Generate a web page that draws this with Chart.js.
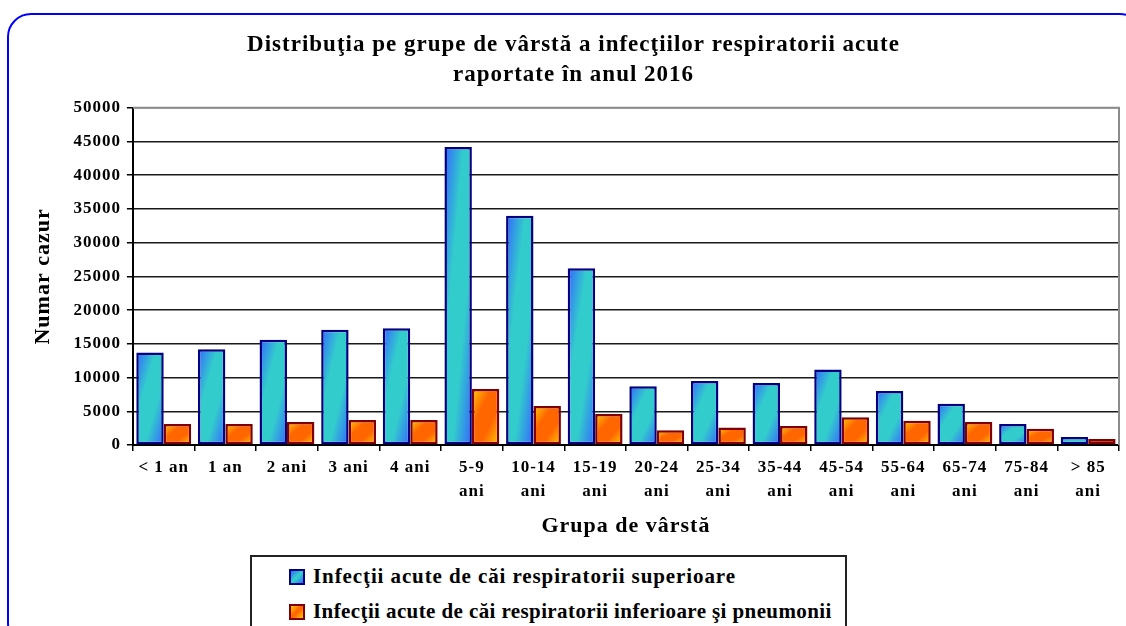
<!DOCTYPE html>
<html>
<head>
<meta charset="utf-8">
<script src="https://cdn.jsdelivr.net/npm/chart.js@4.4.1/dist/chart.umd.min.js"></script>
<style>
  body { margin: 0; background: #fff; }
  #wrap { position: relative; width: 1126px; height: 626px; overflow: hidden; background: #fff; }
  #frame { position: absolute; left: 7px; top: 13px; width: 1133px; height: 630px; border: 2px solid #0000ff; border-radius: 24px; }
  #chart { position: absolute; left: 0; top: 0; }
  #legend { position: absolute; left: 250px; top: 555px; width: 593px; height: 90px; border: 2px solid #222;
    font: bold 21px 'Liberation Serif', 'Times New Roman', serif; color: #000; }
  .item { position: absolute; left: 37px; display: flex; align-items: center; white-space: nowrap; }
  .mark { width: 12px; height: 12px; border: 2px solid; margin-right: 8px; }
</style>
</head>
<body>
<div id="wrap">
  <div id="frame"></div>
  <canvas id="chart" width="1126" height="544"></canvas>
  <div id="legend"></div>
</div>
<script>
const SERIF = "'Liberation Serif', 'Times New Roman', serif";

// grupe de varsta (etichete pe axa X)
const categories = ['< 1 an', '1 an', '2 ani', '3 ani', '4 ani',
  ['5-9', 'ani'], ['10-14', 'ani'], ['15-19', 'ani'], ['20-24', 'ani'], ['25-34', 'ani'],
  ['35-44', 'ani'], ['45-54', 'ani'], ['55-64', 'ani'], ['65-74', 'ani'], ['75-84', 'ani'], ['> 85', 'ani']];

const seriesNames = ['Infecţii acute de căi respiratorii superioare',
  'Infecţii acute de căi respiratorii inferioare şi pneumonii'];

// valori
const upperValues = [13700, 14200, 15600, 17100, 17300, 44200, 34000, 26200, 8700, 9500, 9200, 11200, 8000, 6100, 3100, 1200];
const lowerValues = [3100, 3100, 3400, 3700, 3700, 8300, 5800, 4600, 2200, 2600, 2800, 4100, 3600, 3400, 2400, 900];

const yTicksMax = 50000;
const yTicksStep = 5000;

const titleLines = ['Distribuţia pe grupe de vârstă a infecţiilor respiratorii acute', 'raportate în anul 2016'];

const GROUP = 0.89;

// gradient ca in Excel: culoarea de margine in colturile stanga-sus si dreapta-jos
function cornerGradient(edge, middle) {
  return function (c) {
    const chart = c.chart;
    const xs = chart.scales.x, ys = chart.scales.y;
    if (c.type !== 'data' || !chart.chartArea || !xs || !ys || !xs.width) return middle;
    const catW = xs.width / categories.length;
    const barW = catW * GROUP / 2;
    const left = xs.getPixelForValue(c.dataIndex) - barW + c.datasetIndex * barW;
    const top = ys.getPixelForValue(c.raw);
    const h = Math.max(ys.getPixelForValue(0) - top, 1);
    const w = barW;
    const t = 2 * w * h / (w * w + h * h);
    const g = chart.ctx.createLinearGradient(left, top, left + t * h, top + t * w);
    g.addColorStop(0, edge);
    g.addColorStop(0.35, middle);
    g.addColorStop(0.65, middle);
    g.addColorStop(1, edge);
    return g;
  };
}

const spacing = {
  id: 'spacing',
  beforeUpdate(chart) { chart.ctx.letterSpacing = '1px'; },
  beforeDraw(chart) { chart.ctx.letterSpacing = '1px'; }
};

// chenar gri sus si dreapta
const plotFrame = {
  id: 'plotFrame',
  beforeDatasetsDraw(chart) {
    const { ctx, chartArea: a } = chart;
    ctx.save();
    ctx.strokeStyle = '#8c8c8c';
    ctx.lineWidth = 2;
    ctx.beginPath();
    ctx.moveTo(a.left, a.top);
    ctx.lineTo(a.right, a.top);
    ctx.lineTo(a.right, a.bottom);
    ctx.stroke();
    ctx.restore();
  }
};

const chart = new Chart(document.getElementById('chart'), {
  type: 'bar',
  data: {
    labels: categories,
    datasets: [{
      label: seriesNames[0],
      data: upperValues,
      backgroundColor: cornerGradient('#3366ff', '#33cccc'),
      borderColor: '#000080',
      borderWidth: 2.5,
      borderSkipped: false
    }, {
      label: seriesNames[1],
      data: lowerValues,
      backgroundColor: cornerGradient('#ffcc00', '#ff6600'),
      borderColor: '#800000',
      borderWidth: 2.5,
      borderSkipped: false
    }]
  },
  options: {
    responsive: false,
    animation: false,
    datasets: { bar: { categoryPercentage: GROUP, barPercentage: 1 } },
    layout: { padding: { top: 15, left: 28, right: 7, bottom: 0 } },
    plugins: {
      legend: { display: false },
      tooltip: { enabled: false },
      title: {
        display: true,
        text: titleLines,
        color: '#000',
        font: { family: SERIF, size: 23, weight: 'bold', lineHeight: 1.3 },
        padding: { top: 15, bottom: 18 }
      }
    },
    scales: {
      x: {
        ticks: { color: '#000', font: { family: SERIF, size: 17, weight: 'bold', lineHeight: 1.4 },
          maxRotation: 0, autoSkip: false, padding: 5 },
        grid: { drawOnChartArea: false, drawTicks: true, tickLength: 6, color: '#000', lineWidth: 1.5 },
        border: { color: '#000', width: 2 },
        title: { display: true, text: 'Grupa de vârstă', color: '#000',
          font: { family: SERIF, size: 22, weight: 'bold', lineHeight: 1.2 }, padding: { top: 5, bottom: 4 } }
      },
      y: {
        min: 0,
        max: yTicksMax,
        ticks: { stepSize: yTicksStep, color: '#000', font: { family: SERIF, size: 17, weight: 'bold' }, padding: 6,
          callback: v => String(v) },
        grid: { color: c => c.tick && c.tick.value === yTicksMax ? '#8c8c8c' : '#1a1a1a', lineWidth: 1.5,
          tickColor: '#000', tickLength: 6 },
        border: { color: '#000', width: 2 },
        title: { display: true, text: 'Numar cazur', color: '#000',
          font: { family: SERIF, size: 22, weight: 'bold', lineHeight: 1.2 }, padding: { top: 2, bottom: 11 } }
      }
    }
  },
  plugins: [spacing, plotFrame]
});

// legenda in chenar, sub grafic
const legendColors = [
  { border: '#000080', fill: 'linear-gradient(135deg, #3366ff, #33cccc 45%, #33cccc 55%, #3366ff)', spacing: '0.9px' },
  { border: '#800000', fill: 'linear-gradient(135deg, #ffcc00, #ff6600 45%, #ff6600 55%, #ffcc00)', spacing: '0.4px' }
];
const legendBox = document.getElementById('legend');
chart.data.datasets.forEach((ds, i) => {
  const item = document.createElement('div');
  item.className = 'item';
  item.style.top = (i === 0 ? 7 : 42) + 'px';
  const mark = document.createElement('span');
  mark.className = 'mark';
  mark.style.borderColor = legendColors[i].border;
  mark.style.background = legendColors[i].fill;
  const text = document.createElement('span');
  text.textContent = ds.label;
  text.style.letterSpacing = legendColors[i].spacing;
  item.appendChild(mark);
  item.appendChild(text);
  legendBox.appendChild(item);
});
</script>
</body>
</html>
